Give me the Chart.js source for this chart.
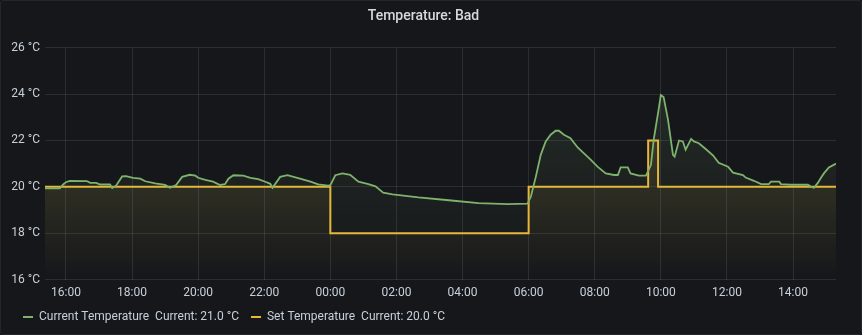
<!DOCTYPE html>
<html>
<head>
<meta charset="utf-8">
<title>Temperature: Bad</title>
<script src="https://cdn.jsdelivr.net/npm/chart.js@4.4.1/dist/chart.umd.min.js"></script>
<style>
  html, body {
    margin: 0;
    padding: 0;
    background: #111217;
  }
  .panel {
    position: absolute;
    left: 0;
    top: 0;
    width: 860px;
    height: 333px;
    background: #16171b;
    border: 1px solid #24262b;
    border-radius: 3px;
  }
</style>
</head>
<body>
<div class="panel">
  <canvas id="tempChart" width="860" height="333"></canvas>
</div>
<script>
// Time window: 15:22 yesterday -> 15:18 today
const windowStart = '15:22';
const windowEnd = '15:18';
const tickTimes = ['16:00', '18:00', '20:00', '22:00', '00:00', '02:00', '04:00', '06:00', '08:00', '10:00', '12:00', '14:00'];
const yTicks = [16, 18, 20, 22, 24, 26];

// Current temperature (sensor readings)
const currentTimes = [
    '15:22', '15:49', '15:55', '16:00', '16:07', '16:38', '16:44', '16:55', '17:02', '17:20',
    '17:24', '17:31', '17:42', '17:49', '18:02', '18:15', '18:24', '18:42', '19:00', '19:09',
    '19:20', '19:31', '19:45', '19:55', '20:00', '20:13', '20:27', '20:40', '20:49', '20:55',
    '21:04', '21:22', '21:35', '21:49', '22:02', '22:11', '22:15', '22:29', '22:42', '23:05',
    '23:24', '23:38', '23:56', '00:00', '00:09', '00:22', '00:36', '00:51', '01:09', '01:22',
    '01:36', '01:53', '02:40', '03:35', '04:29', '05:22', '05:58', '06:04', '06:13', '06:22',
    '06:31', '06:40', '06:49', '06:55', '07:04', '07:16', '07:29', '07:40', '07:53', '08:05',
    '08:20', '08:35', '08:42', '08:47', '09:00', '09:05', '09:20', '09:33', '09:42', '09:47',
    '09:55', '10:00', '10:05', '10:13', '10:22', '10:25', '10:33', '10:40', '10:45', '10:55',
    '11:00', '11:09', '11:22', '11:35', '11:45', '12:02', '12:11', '12:29', '12:34', '12:49',
    '13:02', '13:16', '13:20', '13:35', '13:38', '13:56', '14:27', '14:33', '14:38', '14:45',
    '14:51', '14:56', '15:05', '15:18'
];
const currentTemp = [
    19.93, 19.93, 20.1, 20.2, 20.26, 20.25, 20.17, 20.17, 20.1, 20.1,
    19.95, 20.05, 20.45, 20.46, 20.39, 20.35, 20.24, 20.15, 20.08, 19.96,
    20.08, 20.43, 20.52, 20.48, 20.39, 20.3, 20.22, 20.08, 20.12, 20.35,
    20.5, 20.48, 20.39, 20.33, 20.22, 20.13, 19.96, 20.43, 20.5, 20.35,
    20.22, 20.11, 20.05, 20.07, 20.5, 20.58, 20.52, 20.22, 20.12, 20.02,
    19.75, 19.67, 19.54, 19.42, 19.3, 19.25, 19.27, 19.57, 20.43, 21.38,
    21.96, 22.25, 22.42, 22.42, 22.25, 22.1, 21.7, 21.45, 21.16, 20.87,
    20.58, 20.51, 20.51, 20.84, 20.84, 20.58, 20.48, 20.48, 20.94, 22.03,
    23.19, 23.96, 23.88, 22.9, 21.38, 21.3, 22.0, 21.96, 21.6, 22.07,
    21.96, 21.88, 21.62, 21.35, 21.04, 20.87, 20.61, 20.51, 20.4, 20.26,
    20.12, 20.12, 20.22, 20.22, 20.12, 20.09, 20.09, 20.0, 19.96, 20.17,
    20.4, 20.58, 20.84, 21.0
];

// Set temperature (thermostat target, stepped)
const setTimes = ['15:22', '00:00', '06:00', '09:37', '09:55', '15:18'];
const setTemp = [20, 18, 20, 22, 20, 20];

const seriesNames = ['Current Temperature', 'Set Temperature'];
const seriesColors = ['#7EB26D', '#EAB839'];

function toMinutesRaw(t) {
    const [h, m] = t.split(':').map(Number);
    return h * 60 + m;
}
// "HH:MM" -> minutes, times before the window start belong to the next day
function toMinutes(t) {
    let mins = toMinutesRaw(t);
    if (mins < toMinutesRaw(windowStart)) mins += 1440;
    return mins;
}
function fmtTime(mins) {
    const h = Math.floor(mins / 60) % 24;
    const m = Math.round(mins % 60);
    return String(h).padStart(2, '0') + ':' + String(m).padStart(2, '0');
}

// vertical opacity gradient, like Grafana's "opacity" gradient mode
function gradientFill(rgb, alpha) {
    return function(context) {
        const chart = context.chart;
        const area = chart.chartArea;
        if (!area) return null;
        const g = chart.ctx.createLinearGradient(0, area.top, 0, area.bottom);
        g.addColorStop(0, 'rgba(' + rgb + ',' + alpha + ')');
        g.addColorStop(1, 'rgba(' + rgb + ',0)');
        return g;
    };
}

const lastCurrent = currentTemp[currentTemp.length - 1];
const lastSet = setTemp[setTemp.length - 1];
const legendTexts = [
    seriesNames[0] + '  Current: ' + lastCurrent.toFixed(1) + ' °C',
    seriesNames[1] + '  Current: ' + lastSet.toFixed(1) + ' °C'
];

const fontFamily = 'Roboto, "Noto Sans", sans-serif';
const textColor = '#c7d0d9';
const gridColor = 'rgba(204, 204, 220, 0.12)';

const ctx = document.getElementById('tempChart').getContext('2d');
new Chart(ctx, {
    type: 'line',
    data: {
        datasets: [
            {
                label: seriesNames[0],
                data: currentTimes.map((t, i) => ({ x: toMinutes(t), y: currentTemp[i] })),
                borderColor: seriesColors[0],
                backgroundColor: gradientFill('126,178,109', 0.17),
                borderWidth: 1.8,
                pointRadius: 0,
                tension: 0,
                fill: 'start'
            },
            {
                label: seriesNames[1],
                data: setTimes.map((t, i) => ({ x: toMinutes(t), y: setTemp[i] })),
                borderColor: seriesColors[1],
                backgroundColor: gradientFill('234,184,57', 0.22),
                borderWidth: 2,
                pointRadius: 0,
                stepped: true,
                fill: 'start'
            }
        ]
    },
    options: {
        responsive: false,
        animation: false,
        layout: {
            padding: { left: 10, right: 25, top: 0, bottom: 1 }
        },
        plugins: {
            title: {
                display: true,
                text: 'Temperature: Bad',
                color: '#d8d9da',
                font: { family: fontFamily, size: 14, weight: 500 },
                padding: { top: 7, bottom: 23 }
            },
            legend: {
                position: 'bottom',
                align: 'start',
                labels: {
                    color: textColor,
                    font: { family: fontFamily, size: 12 },
                    usePointStyle: true,
                    pointStyle: 'line',
                    pointStyleWidth: 10,
                    padding: 12,
                    generateLabels: function(chart) {
                        return chart.data.datasets.map((ds, i) => ({
                            text: legendTexts[i],
                            fillStyle: seriesColors[i],
                            strokeStyle: seriesColors[i],
                            lineWidth: 2,
                            pointStyle: 'line',
                            fontColor: textColor,
                            datasetIndex: i
                        }));
                    }
                }
            },
            tooltip: { enabled: false }
        },
        scales: {
            x: {
                type: 'linear',
                min: toMinutes(windowStart),
                max: toMinutes(windowEnd),
                afterBuildTicks: function(scale) {
                    scale.ticks = tickTimes.map(t => ({ value: toMinutes(t) }));
                },
                afterFit: function(scale) {
                    scale.height = 19.5;
                },
                grid: {
                    color: gridColor,
                    drawTicks: false
                },
                border: { display: false },
                ticks: {
                    color: textColor,
                    font: { family: fontFamily, size: 12 },
                    padding: 6,
                    maxRotation: 0,
                    autoSkip: false,
                    callback: value => fmtTime(value)
                }
            },
            y: {
                min: yTicks[0],
                max: yTicks[yTicks.length - 1],
                afterBuildTicks: function(scale) {
                    scale.ticks = yTicks.map(v => ({ value: v }));
                },
                afterFit: function(scale) {
                    scale.width = 34;
                },
                grid: {
                    color: gridColor,
                    drawTicks: false
                },
                border: { display: false },
                ticks: {
                    color: textColor,
                    font: { family: fontFamily, size: 12 },
                    padding: 5,
                    callback: value => value + ' °C'
                }
            }
        }
    }
});
</script>
</body>
</html>
